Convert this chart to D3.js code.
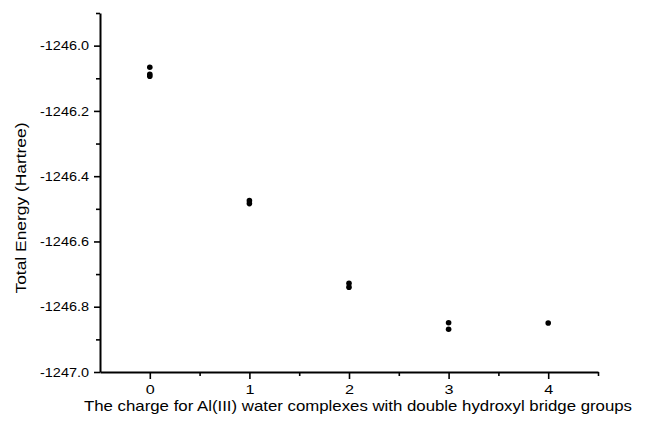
<!DOCTYPE html>
<html>
<head>
<meta charset="utf-8">
<script src="https://cdn.jsdelivr.net/npm/d3@7"></script>
<style>
  html, body { margin: 0; padding: 0; background: #fff; }
  svg { display: block; }
  text { font-family: "Liberation Sans", Arial, sans-serif; fill: #000; }
</style>
</head>
<body>
<svg id="chart" width="649" height="428"></svg>
<script>
// Data (charge, total energy in Hartree)
const charges = [0, 0, 0, 1, 1, 2, 2, 3, 3, 4];
const energies = [-1246.066, -1246.088, -1246.094, -1246.475, -1246.484, -1246.728, -1246.740, -1246.849, -1246.869, -1246.850];
const xTicks = [0, 1, 2, 3, 4];
const xMinorTicks = [0.5, 1.5, 2.5, 3.5, 4.5];
const yTicks = [-1247.0, -1246.8, -1246.6, -1246.4, -1246.2, -1246.0];
const yMinorTicks = [-1246.9, -1246.7, -1246.5, -1246.3, -1246.1, -1245.9];
const xTitle = "The charge for Al(III) water complexes with double hydroxyl bridge groups";
const yTitle = "Total Energy (Hartree)";

const svg = d3.select("#chart");
const x = d3.scaleLinear().domain([-0.5, 4.5]).range([100, 598]);
const y = d3.scaleLinear().domain([-1247.0, -1245.9]).range([372, 13]);
const fmtY = d => d3.format(".1f")(d).replace("−", "-");

// minor ticks first
svg.append("g").attr("transform", `translate(0,${y(-1247.0)})`)
  .call(d3.axisBottom(x).tickValues(xMinorTicks).tickFormat("").tickSize(4).tickSizeOuter(0))
  .call(g => g.select(".domain").remove());
svg.append("g").attr("transform", `translate(${x(-0.5)},0)`)
  .call(d3.axisLeft(y).tickValues(yMinorTicks).tickFormat("").tickSize(4).tickSizeOuter(0))
  .call(g => g.select(".domain").remove());

// X axis
const gx = svg.append("g").attr("transform", `translate(0,${y(-1247.0)})`)
  .call(d3.axisBottom(x).tickValues(xTicks).tickFormat(d3.format("d")).tickSize(7).tickPadding(6).tickSizeOuter(0));

// Y axis
const gy = svg.append("g").attr("transform", `translate(${x(-0.5)},0)`)
  .call(d3.axisLeft(y).tickValues(yTicks).tickFormat(fmtY).tickSize(6).tickPadding(5).tickSizeOuter(0));

svg.selectAll(".domain").attr("stroke", "#000").attr("stroke-width", 2);
svg.selectAll(".tick line").attr("stroke", "#000").attr("stroke-width", 1.6);
svg.selectAll(".tick text").attr("font-size", 13).attr("font-family", '"Liberation Sans", Arial, sans-serif').attr("fill", "#000");
gy.selectAll(".tick text").attr("textLength", 49).attr("lengthAdjust", "spacingAndGlyphs");
gx.selectAll(".tick text").attr("textLength", 9).attr("lengthAdjust", "spacingAndGlyphs");

// Points
svg.append("g").selectAll("circle")
  .data(charges.map((c, i) => ({ c, e: energies[i] })))
  .join("circle")
  .attr("cx", d => x(d.c))
  .attr("cy", d => y(d.e))
  .attr("r", 2.8)
  .attr("fill", "#000");

// Titles
svg.append("text")
  .attr("x", 358).attr("y", 411)
  .attr("text-anchor", "middle")
  .attr("font-size", 15)
  .attr("textLength", 548).attr("lengthAdjust", "spacingAndGlyphs")
  .text(xTitle);

svg.append("text")
  .attr("transform", `translate(26,208) rotate(-90)`)
  .attr("text-anchor", "middle")
  .attr("font-size", 15.5)
  .attr("textLength", 171).attr("lengthAdjust", "spacingAndGlyphs")
  .text(yTitle);
</script>
</body>
</html>
